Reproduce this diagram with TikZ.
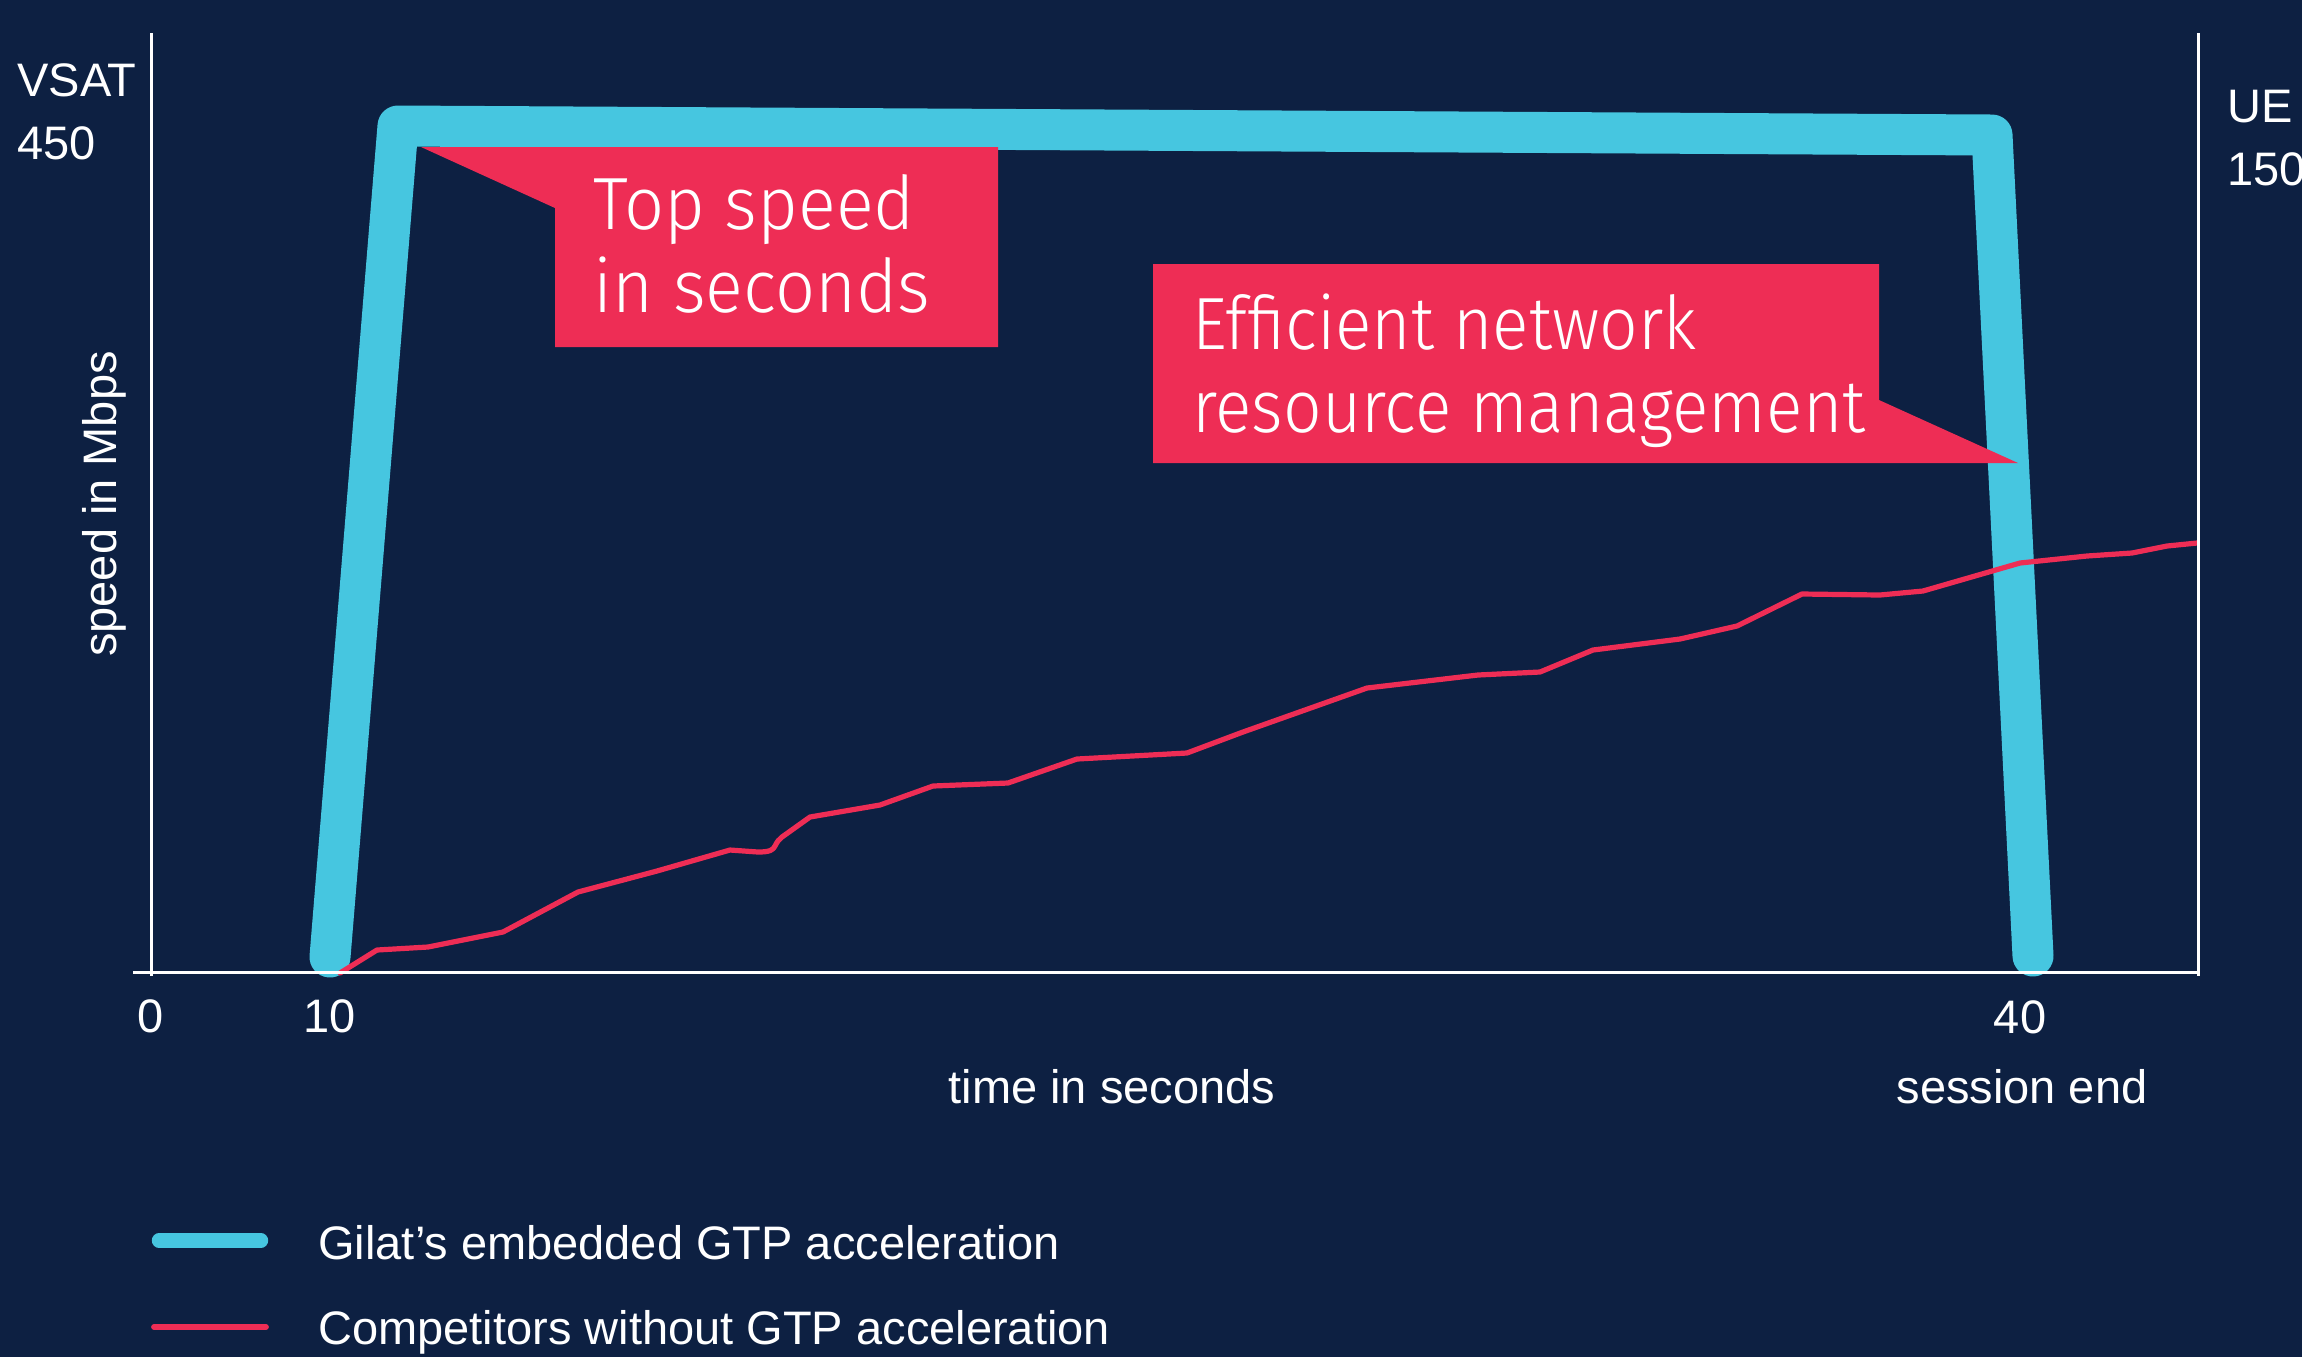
\documentclass[tikz,border=0pt]{standalone}
\usepackage{fontspec}
\setmainfont{Liberation Sans}
\newfontfamily\lightfont{Fira Sans Light}
\definecolor{bgnavy}{HTML}{0D2042}
\definecolor{gblue}{HTML}{46C6E0}
\definecolor{gred}{HTML}{EE2D55}
\newcommand{\cotext}[2][0.935]{\scalebox{#1}[1]{#2}}
\tikzset{
  lbl/.style={text=white, inner sep=0pt, font=\fontsize{23.5}{28}\selectfont},
  callouttext/.style={text=white, inner sep=0pt, anchor=base west, font=\lightfont\fontsize{37}{41.5}\selectfont},
  calloutbox/.style={fill=gred, draw=none},
  axisline/.style={draw=white, line width=1.5pt},
  fastline/.style={draw=gblue, line width=20.5pt, line join=round, line cap=round},
  slowline/.style={draw=gred, line width=2.6pt, line join=round, line cap=round},
}
\begin{document}
\begin{tikzpicture}[x=0.5pt, y=-0.5pt]
\fill[bgnavy] (0,0) rectangle (2302,1357);
\useasboundingbox (0,0) rectangle (2302,1357);

% blue curve
\draw[fastline] (330,957) -- (398,126) -- (1992,135) -- (2033,956);

% red curve
\draw[slowline] (340,973) -- (377,950) -- (428,947) -- (503,932) -- (578,892) -- (657,871)
  -- (730,850) -- (758,852) .. controls (770,852) and (773,850) .. (775,846)
  .. controls (777,842) and (779,839) .. (782,837) -- (810,817) -- (880,805)
  -- (933,786) -- (1008,783) -- (1077,759) -- (1187,753) -- (1243,732)
  -- (1367,688) -- (1478,675) -- (1540,672) -- (1593,650) -- (1680,639)
  -- (1737,626) -- (1802,594) -- (1880,595) -- (1923,591) -- (2020,563)
  -- (2087,556) -- (2132,553) -- (2167,546) -- (2197,543);

% axes
\draw[axisline] (151,33) -- (151,976);
\draw[axisline] (2198,33) -- (2198,976);
\draw[axisline] (133,972) -- (2198,972);

% callouts
\fill[calloutbox] (421,147) -- (998,147) -- (998,347) -- (555,347) -- (555,208) -- cycle;
\node[callouttext] (c1a) at (593,229) {\cotext[0.95]{Top speed}};
\node[callouttext] (c1b) at (593,312) {\cotext[0.95]{in seconds}};

\fill[calloutbox] (1153,264) -- (1879,264) -- (1879,400) -- (2018,463) -- (1153,463) -- cycle;
\node[callouttext] (c2a) at (1192,349) {\cotext[0.915]{Efficient network}};
\node[callouttext] (c2b) at (1192,432) {\cotext[0.915]{resource management}};

% axis labels
\node[lbl, anchor=base west] (vsat) at (17,96) {VSAT};
\node[lbl, anchor=base west] (v450) at (17,159) {450};
\node[lbl, anchor=base west] (ue) at (2227,122) {UE};
\node[lbl, anchor=base west] (u150) at (2227,185) {150};
\node[lbl, anchor=base, rotate=90] (ylab) at (116,504) {speed in Mbps};

\node[lbl, anchor=base] (t0) at (151,1032) {0};
\node[lbl, anchor=base] (t10) at (330,1032) {10};
\node[lbl, anchor=base] (t40) at (2020,1033) {40};
\node[lbl, anchor=base] (xlab) at (1112,1103) {time in seconds};
\node[lbl, anchor=base] (send) at (2022,1103) {session end};

% legend
\coordinate (lb1) at (159,1240.5);
\coordinate (lb2) at (261,1240.5);
\draw[draw=gblue, line width=7.2pt, line cap=round] (lb1) -- (lb2);
\coordinate (lr1) at (154,1327);
\coordinate (lr2) at (266,1327);
\draw[draw=gred, line width=2.9pt, line cap=round] (lr1) -- (lr2);
\node[lbl, anchor=base west] (leg1) at (318,1259) {Gilat’s embedded GTP acceleration};
\node[lbl, anchor=base west] (leg2) at (318,1344) {Competitors without GTP acceleration};
\end{tikzpicture}
\end{document}
